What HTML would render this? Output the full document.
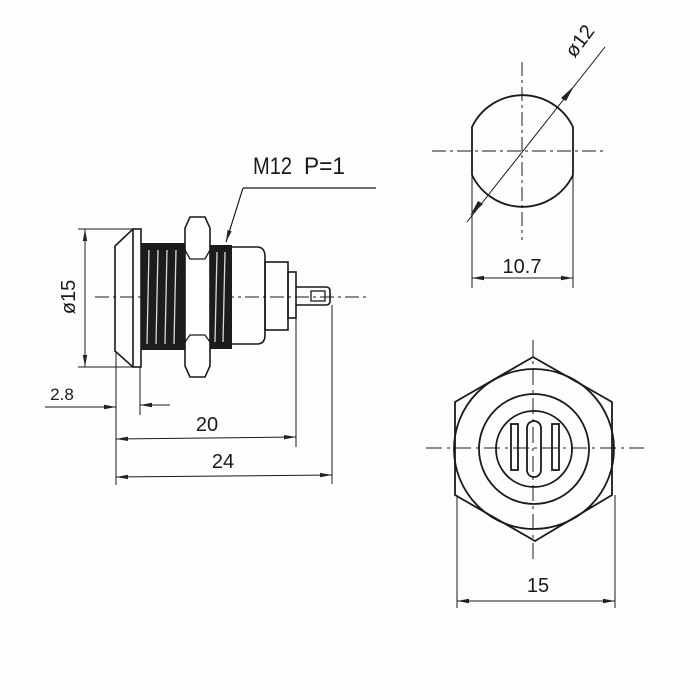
<!DOCTYPE html>
<html><head><style>
html,body{margin:0;padding:0;background:#fff;}
svg{display:block;}
text{font-family:"Liberation Sans",sans-serif;fill:#1a1a1a;}
</style></head><body>
<svg width="700" height="700" viewBox="0 0 700 700" xmlns="http://www.w3.org/2000/svg">
<defs>
<marker id="a" viewBox="0 0 12 6" refX="12" refY="3" markerWidth="12" markerHeight="6" orient="auto-start-reverse" markerUnits="userSpaceOnUse">
<path d="M0,0.8 L12,3 L0,5.2 Z" fill="#222"/></marker>
</defs>
<rect width="700" height="700" fill="#fdfdfd"/>
<g stroke="#1a1a1a" fill="none" stroke-width="1.3">
<line x1="95" y1="297" x2="370" y2="297" stroke-dasharray="14,4,3,4" stroke-width="1"/>
<path d="M133,229 L115,246 L115,351 L133,367" stroke-width="1.6"/>
<rect x="133" y="229" width="8" height="138" stroke-width="1.6"/>
<rect x="141" y="243" width="44" height="107" fill="#1c1c1c" stroke="none"/>
<g stroke="#d8d8d8" stroke-width="1.3">
<line x1="149" y1="250" x2="147" y2="344"/><line x1="158" y1="250" x2="156" y2="344"/>
<line x1="167" y1="250" x2="165" y2="344"/><line x1="176" y1="250" x2="174" y2="344"/>
</g>
<rect x="210" y="245" width="22" height="104" fill="#1c1c1c" stroke="none"/>
<g stroke="#d8d8d8" stroke-width="1.3">
<line x1="217" y1="252" x2="215" y2="342"/><line x1="225" y1="252" x2="223" y2="342"/>
</g>
<path d="M190,217 L205,217 L210,228 L210,366 L205,377 L190,377 L185,366 L185,228 Z" fill="#fff" stroke-width="1.6"/>
<path d="M185,250 L190,259 L205,259 L210,250 M185,342 L190,335 L205,335 L210,342" stroke-width="1.3"/>
<path d="M232,247 L257,247 Q265,247 265,257 L265,335 Q265,344 257,344 L232,344" stroke-width="1.6"/>
<rect x="265" y="262" width="23" height="68" stroke-width="1.6"/>
<rect x="288" y="272" width="8" height="46" stroke-width="1.6"/>
<path d="M296,287 L326,287 Q330,287 330,291 L330,301 Q330,305 326,305 L296,305" stroke-width="1.6"/>
<rect x="311" y="291" width="14" height="10" stroke-width="1.3"/>
<line x1="78" y1="229" x2="133" y2="229" stroke-width="1"/>
<line x1="78" y1="367" x2="133" y2="367" stroke-width="1"/>
<line x1="85" y1="229" x2="85" y2="367" stroke-width="1" marker-start="url(#a)" marker-end="url(#a)"/>
<line x1="116" y1="351" x2="116" y2="485" stroke-width="1"/>
<line x1="140" y1="367" x2="140" y2="415" stroke-width="1"/>
<line x1="296" y1="318" x2="296" y2="447" stroke-width="1"/>
<line x1="332" y1="305" x2="332" y2="484" stroke-width="1"/>
<line x1="45" y1="407" x2="116" y2="407" stroke-width="1" marker-end="url(#a)"/>
<line x1="170" y1="405" x2="140" y2="405" stroke-width="1" marker-end="url(#a)"/>
<line x1="116" y1="439" x2="296" y2="437" stroke-width="1" marker-start="url(#a)" marker-end="url(#a)"/>
<line x1="116" y1="477" x2="332" y2="475" stroke-width="1" marker-start="url(#a)" marker-end="url(#a)"/>
<line x1="243" y1="188" x2="376" y2="188" stroke-width="1.2"/>
<line x1="243" y1="188" x2="226" y2="242" stroke-width="1.2" marker-end="url(#a)"/>

<line x1="432" y1="151" x2="605" y2="151" stroke-dasharray="14,4,3,4" stroke-width="1"/>
<line x1="522" y1="62" x2="522" y2="240" stroke-dasharray="14,4,3,4" stroke-width="1"/>
<path d="M472,127 A56,56 0 0 1 573,127 L573,175 A56,56 0 0 1 472,175 Z" stroke-width="1.8"/>
<line x1="467" y1="222" x2="605" y2="47" stroke-width="1"/>
<path d="M561,98 L574,86 L566,101 Z" fill="#222" stroke="none"/>
<path d="M483,204 L470,216 L478,201 Z" fill="#222" stroke="none"/>
<line x1="472" y1="175" x2="472" y2="288" stroke-width="1"/>
<line x1="573" y1="175" x2="573" y2="288" stroke-width="1"/>
<line x1="472" y1="278" x2="573" y2="278" stroke-width="1" marker-start="url(#a)" marker-end="url(#a)"/>

<line x1="426" y1="448" x2="644" y2="448" stroke-dasharray="16,5,3,5" stroke-width="1"/>
<line x1="533" y1="340" x2="533" y2="560" stroke-dasharray="16,5,3,5" stroke-width="1"/>
<path d="M533,357 L455,402 L455,495 L535,541 L612,495 L612,402 Z" stroke-width="1.8"/>
<circle cx="534" cy="449" r="80" stroke-width="1.8"/>
<circle cx="534" cy="449" r="55" stroke-width="1.8"/>
<circle cx="534" cy="449" r="38" stroke-width="1.8"/>
<rect x="511" y="424" width="7" height="46" stroke-width="1.8"/>
<rect x="552" y="424" width="7" height="46" stroke-width="1.8"/>
<rect x="527" y="421" width="14" height="56" rx="7" stroke-width="1.8"/>
<line x1="457" y1="495" x2="457" y2="608" stroke-width="1"/>
<line x1="615" y1="495" x2="615" y2="608" stroke-width="1"/>
<line x1="457" y1="601" x2="615" y2="601" stroke-width="1" marker-start="url(#a)" marker-end="url(#a)"/>
</g>
<text x="253" y="174" font-size="24" textLength="39" lengthAdjust="spacingAndGlyphs">M12</text>
<text x="304" y="174" font-size="24" textLength="41" lengthAdjust="spacingAndGlyphs">P=1</text>
<text x="0" y="0" font-size="20" transform="translate(75,297) rotate(-90)" text-anchor="middle">ø15</text>
<text x="62" y="400" font-size="17" text-anchor="middle">2.8</text>
<text x="207" y="431" font-size="20" text-anchor="middle">20</text>
<text x="223" y="468" font-size="20" text-anchor="middle">24</text>
<text x="522" y="273" font-size="20" text-anchor="middle">10.7</text>
<text x="0" y="0" font-size="20" transform="translate(585,45) rotate(-53)" text-anchor="middle">ø12</text>
<text x="538" y="592" font-size="20" text-anchor="middle">15</text>
</svg>
</body></html>
